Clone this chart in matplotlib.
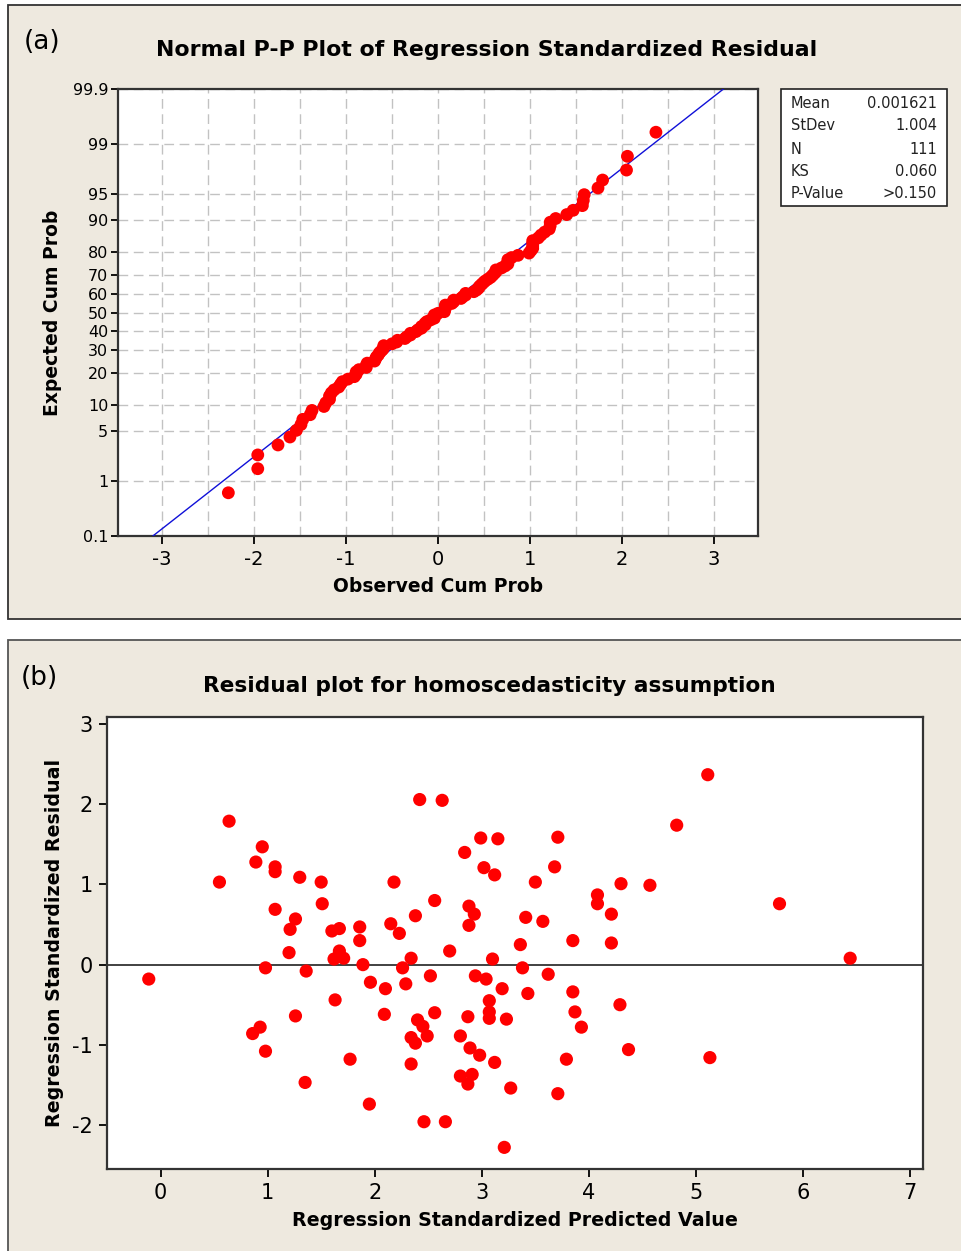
import numpy as np
import matplotlib
matplotlib.use('Agg')
import matplotlib.pyplot as plt
from matplotlib.patches import Rectangle
from statistics import NormalDist

plt.rcParams['axes.unicode_minus'] = False

# residual plot: predicted value vs standardized residual
pred = [0.64, 0.95, 0.89, 1.07, 1.07, 1.30, 0.55, 1.07, 1.26, 1.21, 1.20, 0.98, 1.36, -0.11, 1.26,
        0.93, 0.86, 0.98, 1.35,
        2.42, 2.63, 1.50, 2.18, 1.51, 2.56, 2.38, 2.15, 2.23, 1.60, 1.67, 1.86, 1.86, 1.67, 1.62,
        1.71, 1.89, 2.34, 2.70, 2.26, 1.96, 2.10, 2.29, 2.52, 1.63, 2.09, 2.56, 2.40, 2.45, 2.34,
        2.38, 2.49, 1.77, 2.34, 1.95, 2.46, 2.66,
        2.99, 3.15, 3.71, 2.84, 3.02, 3.12, 3.68, 3.50, 4.08, 4.08, 2.88, 2.93, 2.88, 3.41, 3.57,
        3.85, 3.36, 3.10, 3.38, 3.62, 2.94, 3.04, 3.19, 3.43, 3.85, 3.07, 3.07, 3.07, 2.87, 3.23,
        3.87, 3.93, 2.80, 2.89, 2.98, 3.12, 3.79, 2.80, 2.91, 2.87, 3.27, 3.71, 3.21,
        5.11, 4.82, 4.30, 4.57, 5.78, 4.21, 4.21, 6.44, 4.29, 4.37, 5.13]
resid = [1.79, 1.47, 1.28, 1.22, 1.16, 1.09, 1.03, 0.69, 0.57, 0.44, 0.15, -0.04, -0.08, -0.18, -0.64,
         -0.78, -0.86, -1.08, -1.47,
         2.06, 2.05, 1.03, 1.03, 0.76, 0.80, 0.61, 0.51, 0.39, 0.42, 0.45, 0.47, 0.30, 0.17, 0.07,
         0.08, 0.00, 0.08, 0.17, -0.04, -0.22, -0.30, -0.24, -0.14, -0.44, -0.62, -0.60, -0.69, -0.77, -0.91,
         -0.98, -0.89, -1.18, -1.24, -1.74, -1.96, -1.96,
         1.58, 1.57, 1.59, 1.40, 1.21, 1.12, 1.22, 1.03, 0.87, 0.76, 0.73, 0.63, 0.49, 0.59, 0.54,
         0.30, 0.25, 0.07, -0.04, -0.12, -0.14, -0.18, -0.30, -0.36, -0.34, -0.45, -0.59, -0.67, -0.65, -0.68,
         -0.59, -0.78, -0.89, -1.04, -1.13, -1.22, -1.18, -1.39, -1.37, -1.49, -1.54, -1.61, -2.28,
         2.37, 1.74, 1.01, 0.99, 0.76, 0.63, 0.27, 0.08, -0.50, -1.06, -1.16]

# summary box of the P-P plot
stat_names = ['Mean', 'StDev', 'N', 'KS', 'P-Value']
stat_values = ['0.001621', '1.004', '111', '0.060', '>0.150']
fit_mean = 0.001621
fit_sd = 1.004

prob_ticks = [0.1, 1, 5, 10, 20, 30, 40, 50, 60, 70, 80, 90, 95, 99, 99.9]
prob_labels = ['0.1', '1', '5', '10', '20', '30', '40', '50', '60', '70', '80', '90', '95', '99', '99.9']

BG = '#EEE9DF'
RED = '#FF0000'
W, H = 961, 1251

nd = NormalDist()
_ppf = np.vectorize(nd.inv_cdf, otypes=[float])
_cdf = np.vectorize(nd.cdf, otypes=[float])


def pct_to_z(p):
    p = np.clip(np.asarray(p, dtype=float) / 100.0, 1e-12, 1 - 1e-12)
    return _ppf(p)


def z_to_pct(z):
    return 100.0 * _cdf(np.asarray(z, dtype=float))


def fx(px):
    return px / W


def fy(py):
    return 1 - py / H


fig = plt.figure(figsize=(W / 100, H / 100), dpi=100)
fig.patch.set_facecolor('white')

# panel backgrounds
fig.add_artist(Rectangle((fx(8), fy(619)), 1.0, (619 - 5) / H, transform=fig.transFigure,
                         facecolor=BG, edgecolor='#333333', lw=1.3, zorder=0))
fig.add_artist(Rectangle((fx(8), -0.01), 1.0, fy(640) + 0.01, transform=fig.transFigure,
                         facecolor=BG, edgecolor='#555555', lw=1.3, zorder=0))

# ---- (a) normal P-P plot
ax1 = fig.add_axes([fx(118), fy(536), (758 - 118) / W, (536 - 89) / H])
ax1.set_yscale('function', functions=(pct_to_z, z_to_pct))
ax1.set_xlim(-3.48, 3.48)
ax1.set_ylim(0.1, 99.9)

sorted_res = np.sort(resid)
n = len(sorted_res)
ranks = np.arange(1, n + 1)
plot_pos = 100 * (ranks - 0.3) / (n + 0.4)

xs = np.linspace(-3.6, 3.6, 300)
fit_line = 100 * np.vectorize(NormalDist(fit_mean, fit_sd).cdf)(xs)
ax1.plot(xs, fit_line, color='#1010D8', lw=1.0, zorder=3)
ax1.scatter(sorted_res, plot_pos, s=85, color=RED, edgecolors='none', zorder=4)

ax1.set_yticks(prob_ticks)
ax1.set_yticklabels(prob_labels)
ax1.yaxis.set_minor_locator(matplotlib.ticker.NullLocator())
ax1.set_xticks([-3, -2, -1, 0, 1, 2, 3])
ax1.set_xticks(np.arange(-3, 3.01, 0.5), minor=True)
ax1.grid(True, which='both', color='#C2C2C2', ls=(0, (7, 4)), lw=1.0, zorder=1)
ax1.set_axisbelow(True)
ax1.tick_params(axis='y', direction='out', length=5, width=1.3, labelsize=11.5, pad=2)
ax1.tick_params(axis='x', direction='out', length=6, width=1.3, labelsize=14, pad=4)
ax1.tick_params(which='minor', length=0)
for s in ax1.spines.values():
    s.set_color('#333333')
    s.set_linewidth(1.6)
ax1.set_xlabel('Observed Cum Prob', fontsize=13.5, fontweight='bold', labelpad=6)
ax1.set_ylabel('Expected Cum Prob', fontsize=13.5, fontweight='bold', labelpad=8)

fig.text(fx(487), fy(50), 'Normal P-P Plot of Regression Standardized Residual',
         ha='center', va='center', fontsize=15.8, fontweight='bold')
fig.text(fx(24), fy(42), '(a)', ha='left', va='center', fontsize=19)

# stats box
fig.add_artist(Rectangle((fx(781), fy(206)), (947 - 781) / W, (206 - 89) / H,
                         transform=fig.transFigure, facecolor='white', edgecolor='#222222', lw=1.2))
row_y = [104, 126, 149, 172, 194]
for name, val, py in zip(stat_names, stat_values, row_y):
    fig.text(fx(791), fy(py), name, ha='left', va='center', fontsize=10.5, color='#222222')
    fig.text(fx(937), fy(py), val, ha='right', va='center', fontsize=10.5, color='#222222')

# ---- (b) residual plot
ax2 = fig.add_axes([fx(107), fy(1169), (923 - 107) / W, (1169 - 717) / H])
ax2.set_facecolor('white')
ax2.scatter(pred, resid, s=90, color=RED, edgecolors='none', zorder=3)
ax2.axhline(0, color='#333333', lw=1.3, zorder=2)
ax2.set_xlim(-0.5, 7.12)
ax2.set_ylim(-2.55, 3.09)
ax2.set_xticks(range(0, 8))
ax2.set_yticks([-2, -1, 0, 1, 2, 3])
ax2.tick_params(direction='out', length=6, width=1.3, labelsize=15, pad=4)
for s in ax2.spines.values():
    s.set_color('#333333')
    s.set_linewidth(1.6)
ax2.set_xlabel('Regression Standardized Predicted Value', fontsize=13.7, fontweight='bold', labelpad=6)
ax2.set_ylabel('Regression Standardized Residual', fontsize=13.7, fontweight='bold', labelpad=6)

fig.text(fx(489), fy(686), 'Residual plot for homoscedasticity assumption',
         ha='center', va='center', fontsize=15.6, fontweight='bold')
fig.text(fx(21), fy(678), '(b)', ha='left', va='center', fontsize=19)

fig.savefig('out.png', dpi=100, facecolor=fig.get_facecolor())
